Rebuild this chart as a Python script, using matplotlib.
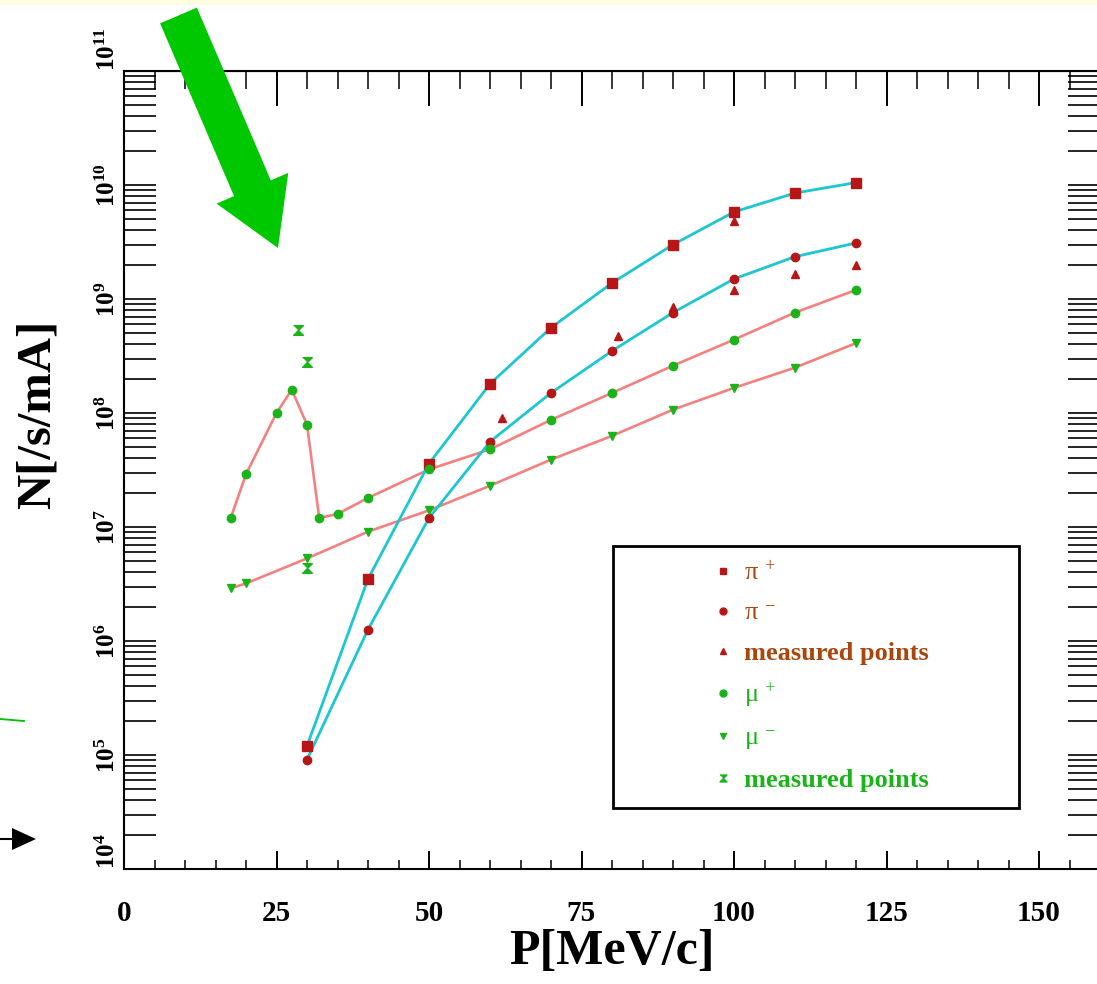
#!/usr/bin/env python3
import numpy as np
import matplotlib
matplotlib.use('Agg')
import matplotlib.pyplot as plt
from matplotlib import ticker, patches, transforms
from matplotlib.lines import Line2D

# pi+ / pi- yields (fit curves through these)
pi_p = [30, 40, 50, 60, 70, 80, 90, 100, 110, 120]
pip_n = [1.2e5, 3.5e6, 3.6e7, 1.8e8, 5.6e8, 1.38e9, 3.0e9, 5.8e9, 8.5e9, 1.05e10]
pim_n = [9.1e4, 1.26e6, 1.2e7, 5.6e7, 1.5e8, 3.5e8, 7.6e8, 1.5e9, 2.35e9, 3.1e9]
pi_meas_p = [62, 81, 90, 100, 100, 110, 120]
pi_meas_n = [9.1e7, 4.7e8, 8.5e8, 4.8e9, 1.2e9, 1.66e9, 2.0e9]

# mu+ / mu- yields
mup_p = [17.5, 20, 25, 27.5, 30, 32, 35, 40, 50, 60, 70, 80, 90, 100, 110, 120]
mup_n = [1.2e7, 2.9e7, 1.0e8, 1.6e8, 7.9e7, 1.2e7, 1.3e7, 1.8e7, 3.2e7, 4.8e7,
         8.7e7, 1.5e8, 2.6e8, 4.4e8, 7.6e8, 1.2e9]
mum_p = [17.5, 20, 30, 40, 50, 60, 70, 80, 90, 100, 110, 120]
mum_n = [2.9e6, 3.2e6, 5.3e6, 9.1e6, 1.4e7, 2.3e7, 3.9e7, 6.3e7, 1.07e8,
         1.66e8, 2.5e8, 4.1e8]
mu_meas_p = [28.5, 30, 30]
mu_meas_n = [5.4e8, 2.8e8, 4.4e6]

legend_labels = ['π $^{+}$', 'π $^{-}$', 'measured points',
                 'μ $^{+}$', 'μ $^{-}$', 'measured points']

RED = '#b81616'
GREEN = '#1ab41a'
PINK = '#f48080'
CYAN = '#1cc6d2'
BROWN = '#a8460e'
W, H = 1097, 984

plt.rcParams['font.family'] = 'Liberation Serif'
plt.rcParams['mathtext.fontset'] = 'custom'
plt.rcParams['mathtext.rm'] = 'Liberation Serif'
plt.rcParams['mathtext.it'] = 'Liberation Serif:italic'
plt.rcParams['mathtext.bf'] = 'Liberation Serif:bold'

hourglass = [(-1, 1), (1, 1), (0, 0), (1, -1), (-1, -1), (0, 0)]

fig = plt.figure(figsize=(W / 100, H / 100), dpi=100)
ax = fig.add_axes([124 / W, 115 / H, 976 / W, 798 / H])

ax.plot(mup_p, mup_n, color=PINK, lw=1.9, zorder=2)
ax.plot(mum_p, mum_n, color=PINK, lw=1.9, zorder=2)
ax.plot(pi_p, pip_n, color=CYAN, lw=2.0, zorder=2)
ax.plot(pi_p, pim_n, color=CYAN, lw=2.0, zorder=2)

ax.plot(pi_p, pip_n, ls='none', marker='s', ms=7.5, color=RED, zorder=3)
ax.plot(pi_p, pim_n, ls='none', marker='o', ms=6, color=RED, zorder=3)
ax.plot(pi_meas_p, pi_meas_n, ls='none', marker='^', ms=6, color=RED, zorder=3)
ax.plot(mup_p, mup_n, ls='none', marker='o', ms=6, color=GREEN, zorder=3)
ax.plot(mum_p, mum_n, ls='none', marker='v', ms=6, color=GREEN, zorder=3)
ax.plot(mu_meas_p, mu_meas_n, ls='none', marker=hourglass, ms=7, color=GREEN,
        zorder=3)

ax.set_xlim(0, 160)
ax.set_yscale('log')
ax.set_ylim(1e4, 1e11)

ax.xaxis.set_major_locator(ticker.MultipleLocator(25))
ax.xaxis.set_minor_locator(ticker.MultipleLocator(5))
ax.yaxis.set_major_locator(ticker.LogLocator(base=10, numticks=20))
ax.yaxis.set_minor_locator(ticker.LogLocator(base=10, subs=np.arange(2, 10),
                                             numticks=100))
ax.yaxis.set_minor_formatter(ticker.NullFormatter())
ax.yaxis.set_major_formatter(ticker.FuncFormatter(
    lambda v, pos: r'$\mathbf{10^{%d}}$' % round(np.log10(v))))

ax.tick_params(axis='x', which='major', direction='in', length=13, width=1.4,
               top=False, labelsize=21, pad=22)
ax.tick_params(axis='x', which='minor', direction='in', length=6.5, width=1.1,
               top=False)
ax.tick_params(axis='y', which='both', direction='in', length=23, width=1.2,
               left=True, right=True, labelsize=18, pad=3)
for lab in ax.get_xticklabels():
    lab.set_fontweight('bold')
for lab in ax.get_yticklabels():
    lab.set_rotation(90)
    lab.set_verticalalignment('center')

fig.canvas.draw()
for t in ax.yaxis.get_major_ticks():
    v = t.get_loc()
    if np.isclose(v, 1e4) or np.isclose(v, 1e11):
        t.label1.set_verticalalignment('bottom')

top = ax.secondary_xaxis('top')
top.xaxis.set_major_locator(ticker.MultipleLocator(25))
top.xaxis.set_minor_locator(ticker.MultipleLocator(5))
top.tick_params(which='major', direction='in', length=25, width=1.4,
                labeltop=False)
top.tick_params(which='minor', direction='in', length=13, width=1.1)

for s in ax.spines.values():
    s.set_linewidth(1.5)

ax.set_xlabel('P[MeV/c]', fontsize=36, fontweight='bold', labelpad=2)
ax.set_ylabel('N[/s/mA]', fontsize=35, fontweight='bold')
ax.yaxis.set_label_coords(-0.066, 0.57)

# legend
handles = [
    Line2D([], [], ls='none', marker='s', ms=5, color=RED),
    Line2D([], [], ls='none', marker='o', ms=5, color=RED),
    Line2D([], [], ls='none', marker='^', ms=5, color=RED),
    Line2D([], [], ls='none', marker='o', ms=5, color=GREEN),
    Line2D([], [], ls='none', marker='v', ms=5, color=GREEN),
    Line2D([], [], ls='none', marker=hourglass, ms=5, color=GREEN),
]
leg = ax.legend(handles, legend_labels, loc='upper left',
                bbox_to_anchor=(710 / W, 1 - 561 / H),
                bbox_transform=fig.transFigure, frameon=False,
                fontsize=19, handlelength=1.0, handletextpad=0.3,
                borderpad=0, borderaxespad=0, labelspacing=0.62)
for i, txt in enumerate(leg.get_texts()):
    txt.set_color(BROWN if i < 3 else GREEN)
    if i in (2, 5):
        txt.set_fontweight('bold')
fig.patches.append(patches.Rectangle(
    (613 / W, 1 - 808 / H), 406 / W, 262 / H, transform=fig.transFigure,
    fill=False, edgecolor='black', lw=2.0, zorder=5))

# slide decorations: yellow strip, big green arrow, stray marks on the left
fig.patches.append(patches.Rectangle(
    (0, 1 - 5 / H), 1, 5 / H, transform=fig.transFigure,
    facecolor='#fffde0', edgecolor='none', zorder=0))

tail = np.array([178.5, 15.5])
tip = np.array([278.0, 248.0])
u = (tip - tail) / np.hypot(*(tip - tail))
n = np.array([-u[1], u[0]])
base = tip - 65 * u
arrow = np.array([tail + 20 * n, base + 20 * n, base + 39 * n, tip,
                  base - 39 * n, base - 20 * n, tail - 20 * n])
arrow[:, 1] = H - arrow[:, 1]
fig.patches.append(patches.Polygon(arrow, closed=True, facecolor='#00c800',
                                   edgecolor='none',
                                   transform=transforms.IdentityTransform(),
                                   zorder=6))

fig.lines.append(Line2D([0, 24], [H - 719, H - 721], color='#00c000', lw=1.3,
                        transform=transforms.IdentityTransform()))
fig.lines.append(Line2D([0, 14], [H - 839, H - 839], color='black', lw=1.5,
                        transform=transforms.IdentityTransform()))
fig.patches.append(patches.Polygon(
    [(12, H - 828), (36, H - 839), (12, H - 850)], closed=True,
    facecolor='black', edgecolor='none',
    transform=transforms.IdentityTransform()))

fig.savefig('out.png', dpi=100)
